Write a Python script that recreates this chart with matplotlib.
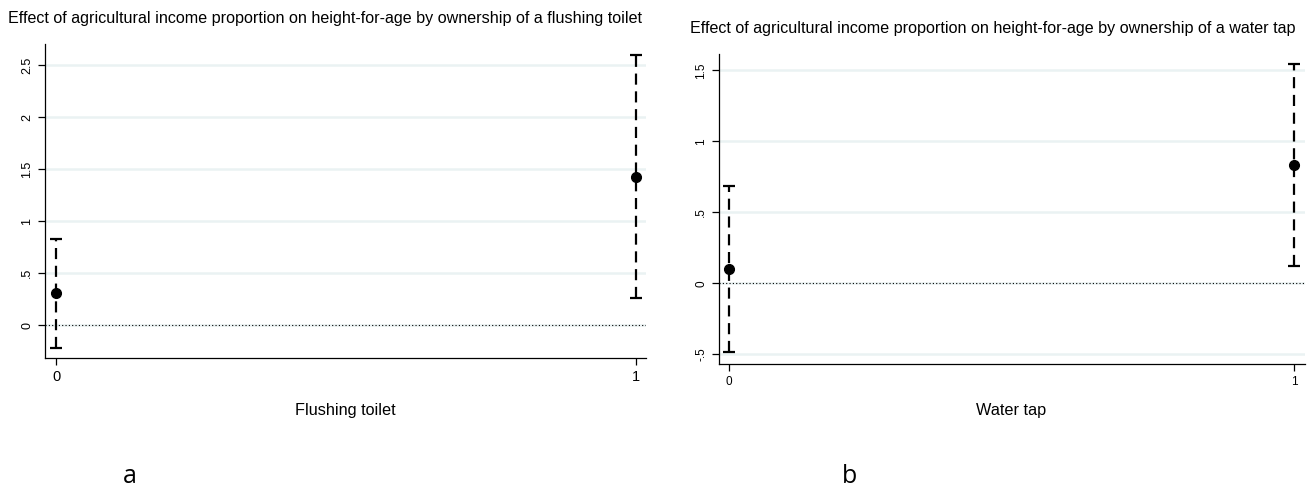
import matplotlib
matplotlib.use("Agg")
import matplotlib.pyplot as plt

plt.rcParams['font.family'] = ['Liberation Sans', 'DejaVu Sans']

# Panel a: flushing toilet
toilet_x = [0, 1]
toilet_est = [0.308, 1.429]
toilet_lo = [-0.215, 0.26]
toilet_hi = [0.83, 2.60]
toilet_yticks = [0, 0.5, 1, 1.5, 2, 2.5]
toilet_yticklabels = ['0', '.5', '1', '1.5', '2', '2.5']

# Panel b: water tap
tap_x = [0, 1]
tap_est = [0.099, 0.833]
tap_lo = [-0.48, 0.12]
tap_hi = [0.687, 1.548]
tap_yticks = [-0.5, 0, 0.5, 1, 1.5]
tap_yticklabels = ['-.5', '0', '.5', '1', '1.5']

titles = ['Effect of agricultural income proportion on height-for-age by ownership of a flushing toilet',
          'Effect of agricultural income proportion on height-for-age by ownership of a water tap']
xlabels = ['Flushing toilet', 'Water tap']
panel_letters = ['a', 'b']

W, H = 1315, 491
fig = plt.figure(figsize=(W / 100, H / 100), dpi=100)

def px_axes(l, t, r, b):
    return fig.add_axes([l / W, 1 - b / H, (r - l) / W, (b - t) / H])

ax1 = px_axes(45, 44, 646, 358)
ax2 = px_axes(719, 54, 1305, 364)

def draw(ax, x, est, lo, hi, yticks, ylabels, ylim, xlim, ytick_fs, xtick_fs):
    for g in yticks:
        ax.axhline(g, color='#eaf2f3', lw=1.8, zorder=0)
    ax.axhline(0, color='black', lw=0.8, ls=(0, (1, 2)), zorder=1)
    yerr = [[e - l for e, l in zip(est, lo)], [h - e for e, h in zip(est, hi)]]
    _, caps, bars = ax.errorbar(x, est, yerr=yerr, fmt='o', color='black', ms=7,
                                ecolor='black', elinewidth=1.6, capsize=4, capthick=1.6, zorder=3)
    for b in bars:
        b.set_linestyle((0, (5, 3)))
    ax.set_ylim(*ylim)
    ax.set_xlim(*xlim)
    ax.set_yticks(yticks)
    ax.set_yticklabels(ylabels, rotation=90, va='center', fontsize=ytick_fs)
    ax.set_xticks(x)
    ax.set_xticklabels([str(v) for v in x], fontsize=xtick_fs)
    ax.tick_params(direction='out', length=5, width=0.9, color='black')
    for s in ['top', 'right']:
        ax.spines[s].set_visible(False)
    for s in ['left', 'bottom']:
        ax.spines[s].set_linewidth(0.9)

draw(ax1, toilet_x, toilet_est, toilet_lo, toilet_hi, toilet_yticks, toilet_yticklabels,
     (-0.314, 2.705), (-0.0195, 1.017), 9, 10.5)
draw(ax2, tap_x, tap_est, tap_lo, tap_hi, tap_yticks, tap_yticklabels,
     (-0.568, 1.615), (-0.018, 1.019), 8.5, 8.5)

fig.text(8 / W, 1 - 18 / H, titles[0], fontsize=11.6, ha='left', va='center')
fig.text(690 / W, 1 - 28 / H, titles[1], fontsize=11.6, ha='left', va='center')
fig.text(345 / W, 1 - 411 / H, xlabels[0], fontsize=11.7, ha='center', va='center')
fig.text(1011 / W, 1 - 411 / H, xlabels[1], fontsize=11.7, ha='center', va='center')
fig.text(130 / W, 1 - 489 / H, panel_letters[0], fontsize=18, ha='center', va='bottom', family='Open Sans')
fig.text(850 / W, 1 - 489 / H, panel_letters[1], fontsize=18, ha='center', va='bottom', family='Open Sans')

fig.savefig('out.png', dpi=100)
